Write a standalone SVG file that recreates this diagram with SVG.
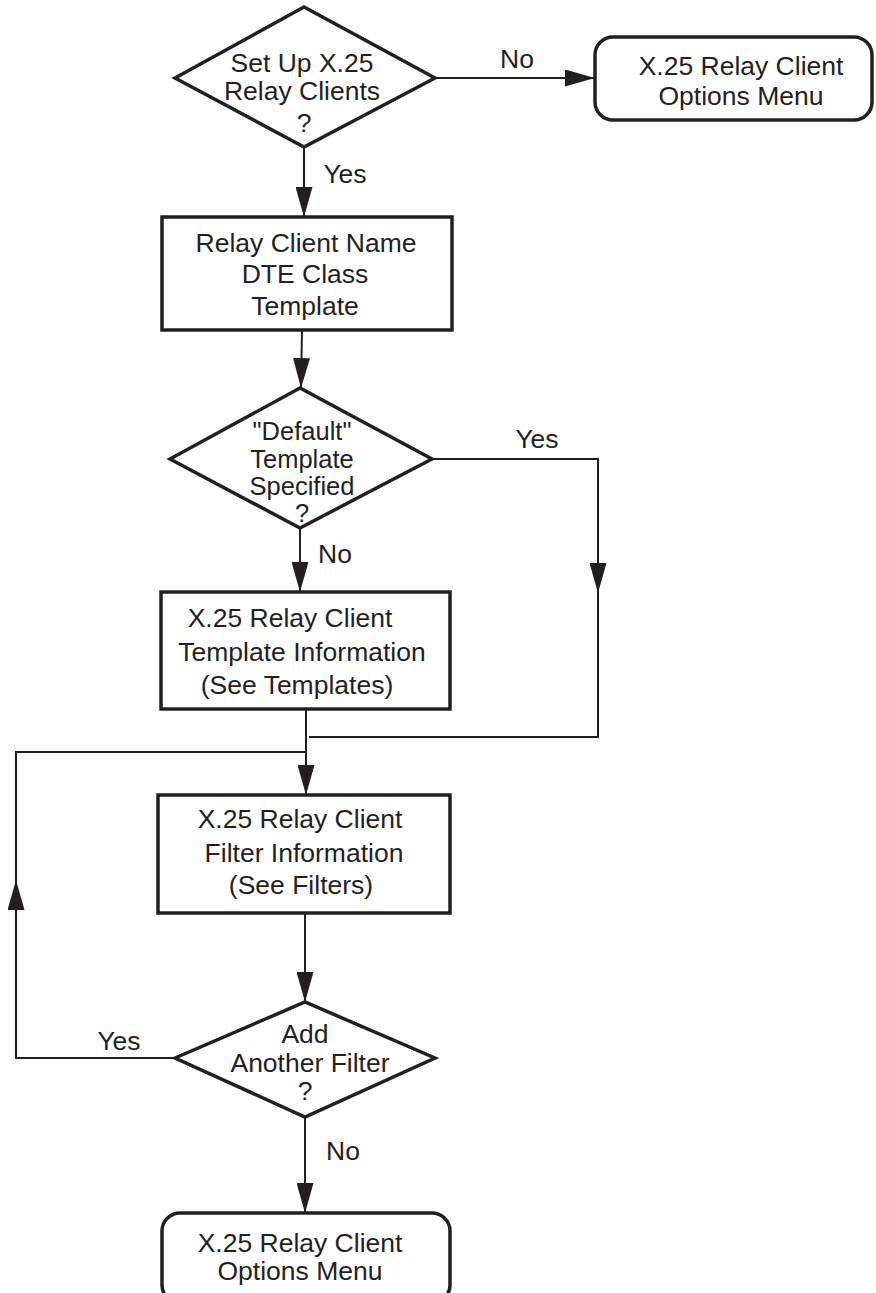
<svg xmlns="http://www.w3.org/2000/svg" width="876" height="1293" viewBox="0 0 876 1293">
<style>
.shape{fill:#fff;stroke:#231f20;stroke-width:3.5}
.conn{fill:none;stroke:#231f20;stroke-width:2}
text{font-family:"Liberation Sans",Arial,sans-serif;font-size:26.5px;fill:#231f20;text-anchor:middle}
.sm{font-size:25.5px}
</style>
<defs>
<marker id="arr" markerUnits="userSpaceOnUse" markerWidth="30" markerHeight="17" refX="30" refY="8.5" orient="auto" viewBox="0 0 30 17">
<path d="M0,0 L30,8.5 L0,17 z" fill="#231f20"/>
</marker>
</defs>
<rect width="876" height="1293" fill="#fff"/>
<g id="connectors">
<path class="conn" d="M435,78 H595" marker-end="url(#arr)"/>
<path class="conn" d="M304,147 V217" marker-end="url(#arr)"/>
<path class="conn" d="M302,330 L301,388" marker-end="url(#arr)"/>
<path class="conn" d="M300,528 V592" marker-end="url(#arr)"/>
<path class="conn" d="M432,459 H598 V593" marker-end="url(#arr)"/>
<path class="conn" d="M598,590 V737 H309"/>
<path class="conn" d="M306,709 V795" marker-end="url(#arr)"/>
<path class="conn" d="M175,1058 H16 V880" marker-end="url(#arr)"/>
<path class="conn" d="M16,884 V752 H306"/>
<path class="conn" d="M305,913 V1002" marker-end="url(#arr)"/>
<path class="conn" d="M305,1117 V1213" marker-end="url(#arr)"/>
<text x="517" y="68">No</text>
<text x="345" y="183">Yes</text>
<text x="537" y="448">Yes</text>
<text x="335" y="563">No</text>
<text x="119" y="1050">Yes</text>
<text x="343" y="1160">No</text>
</g>
<g id="d1">
<polygon class="shape" points="175,78 304,7 435,78 304,147"/>
<text x="302" y="72">Set Up X.25</text>
<text x="302" y="100">Relay Clients</text>
<text x="304" y="132">?</text>
</g>
<g id="menu1">
<rect class="shape" x="595" y="37" width="277" height="83" rx="18"/>
<text x="741" y="75">X.25 Relay Client</text>
<text x="741" y="105">Options Menu</text>
</g>
<g id="b1">
<rect class="shape" x="162" y="217" width="290" height="113"/>
<text x="306" y="252">Relay Client Name</text>
<text x="305" y="283">DTE Class</text>
<text x="305" y="315">Template</text>
</g>
<g id="d2">
<polygon class="shape" points="170,459 300,388 432,459 300,528"/>
<text class="sm" x="302" y="440">"Default"</text>
<text class="sm" x="302" y="468">Template</text>
<text class="sm" x="302" y="495">Specified</text>
<text class="sm" x="302" y="522">?</text>
</g>
<g id="b2">
<rect class="shape" x="161" y="592" width="289" height="117"/>
<text x="290" y="627">X.25 Relay Client</text>
<text x="302" y="661">Template Information</text>
<text x="297" y="694">(See Templates)</text>
</g>
<g id="b3">
<rect class="shape" x="158" y="795" width="292" height="118"/>
<text x="300" y="828">X.25 Relay Client</text>
<text x="304" y="862">Filter Information</text>
<text x="301" y="894">(See Filters)</text>
</g>
<g id="d3">
<polygon class="shape" points="175,1058 305,1002 435,1058 305,1117"/>
<text x="305" y="1043">Add</text>
<text x="310" y="1072">Another Filter</text>
<text x="305" y="1100">?</text>
</g>
<g id="menu2">
<rect class="shape" x="162" y="1213" width="288" height="90" rx="18"/>
<text x="300" y="1252">X.25 Relay Client</text>
<text x="300" y="1280">Options Menu</text>
</g>
</svg>
